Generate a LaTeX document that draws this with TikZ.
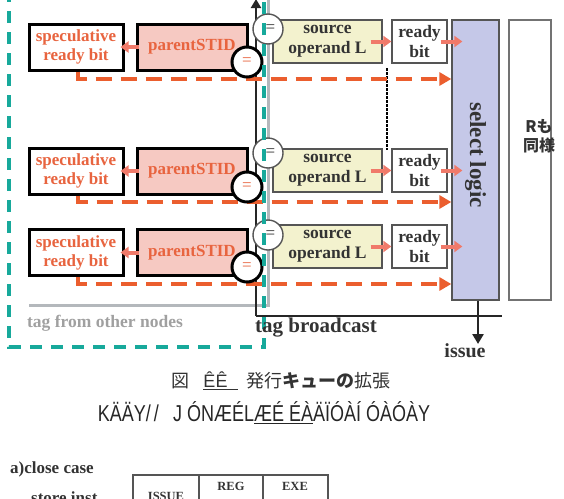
\documentclass[tikz,border=0pt]{standalone}
\usepackage{fontspec}
\usepackage{graphicx}
\setmainfont{Liberation Serif}
\newfontfamily\cjk{Noto Sans CJK JP}
\newfontfamily\narrowf{Liberation Sans}
\usetikzlibrary{arrows.meta}
\definecolor{otxt}{HTML}{E8643F}
\definecolor{salm}{HTML}{F07A6A}
\definecolor{odsh}{HTML}{EB5E2E}
\definecolor{tealc}{HTML}{17A99B}
\definecolor{pinkf}{HTML}{F6C9C2}
\definecolor{ylwf}{HTML}{F3F2CE}
\definecolor{lavf}{HTML}{C5C8E8}
\definecolor{bord}{HTML}{555555}
\definecolor{greyl}{HTML}{B4B8BC}
\definecolor{greyt}{HTML}{A0A0A0}
\definecolor{dtxt}{HTML}{333333}
\begin{document}
\begin{tikzpicture}[x=1pt,y=-1pt,
  specbox/.style={draw=black, line width=3pt, fill=white, minimum width=94pt, minimum height=46pt, inner sep=0pt,
    font=\fontsize{17}{19}\selectfont\bfseries, text=otxt, align=center},
  pidbox/.style={specbox, fill=pinkf, minimum width=110pt, font=\fontsize{17}{19}\selectfont\bfseries},
  srcbox/.style={draw=bord, line width=1.3pt, fill=ylwf, minimum width=109pt, minimum height=43pt, inner sep=0pt,
    font=\fontsize{17.5}{20}\selectfont\bfseries, text=dtxt, align=center},
  rdybox/.style={srcbox, fill=white, minimum width=55pt},
  eqa/.style={circle, draw=bord, line width=1.4pt, fill=white, minimum size=30pt, inner sep=0pt,
    font=\fontsize{17}{17}\selectfont, text=dtxt},
  eqb/.style={circle, draw=black, line width=3pt, fill=white, minimum size=30pt, inner sep=0pt,
    font=\fontsize{17}{17}\selectfont, text=otxt},
  sal/.style={draw=salm, line width=4pt, -{Triangle[length=8pt,width=11pt]}},
  odash/.style={draw=odsh, line width=4pt, dash pattern=on 16pt off 9pt, -{Triangle[length=12pt,width=13pt]}},
  bus/.style={draw=black!85, line width=2.8pt},
  lbl/.style={inner sep=0pt, font=\fontsize{21}{23}\selectfont\bfseries, text=dtxt},
  tcell/.style={inner sep=0pt, font=\fontsize{12.5}{14}\selectfont\bfseries, text=dtxt}
]
\useasboundingbox (0,0) rectangle (564,498);
\clip (0,0) rectangle (564,498);

% grey line (tag from other nodes)
\coordinate (g1) at (29,305);
\coordinate (g2) at (268,305);
\coordinate (g3) at (268,-5);
\draw[greyl, line width=3pt] (g1) -- (g2) -- (g3);

% tag broadcast bus
\coordinate (bb) at (256,316);
\coordinate (bt) at (256,-1);
\coordinate (be) at (502,316);
\draw[bus, -{Triangle[length=9pt,width=10pt]}] (bb) -- (bt);
\draw[bus] (bb) -- (be);

% left boxes
\node[specbox] (spec1) at (76,47) {speculative\\ready bit};
\node[pidbox]  (pid1)  at (192,47) {parentSTID};
\node[specbox] (spec2) at (76,171) {speculative\\ready bit};
\node[pidbox]  (pid2)  at (192,171) {parentSTID};
\node[specbox] (spec3) at (76,252.5) {speculative\\ready bit};
\node[pidbox]  (pid3)  at (192,252.5) {parentSTID};

% right boxes
\node[srcbox] (src1) at (327.5,41.5) {source\\operand L};
\node[rdybox] (rdy1) at (419.5,41.5) {ready\\bit};
\node[srcbox] (src2) at (327.5,170.5) {source\\operand L};
\node[rdybox] (rdy2) at (419.5,170.5) {ready\\bit};
\node[srcbox] (src3) at (327.5,246.5) {source\\operand L};
\node[rdybox] (rdy3) at (419.5,246.5) {ready\\bit};

% select logic and R box
\node[draw=bord, line width=1.3pt, fill=lavf, minimum width=47pt, minimum height=280pt, inner sep=0pt] (sel) at (475.5,160) {};
\node[rotate=-90, inner sep=0pt, font=\fontsize{23}{25}\selectfont\bfseries, text=dtxt] (seltxt) at (475.5,155) {select logic};
\node[draw=black!55, line width=1.3pt, fill=white, minimum width=42pt, minimum height=280pt, inner sep=0pt] (rbox) at (530,160) {};
\node[inner sep=0pt, align=center, font=\cjk\fontsize{16}{19}\selectfont\bfseries, text=dtxt] (rtxt) at (539,136.5) {Rも\\同様};

% dotted line
\coordinate (dt1) at (387,68);
\coordinate (dt2) at (387,150);
\draw[black, line width=2.5pt, dash pattern=on 2.5pt off 1.5pt] (dt1) -- (dt2);

% dashed orange lines
\coordinate (d1) at (sel.west |- 0,79);
\coordinate (d2) at (sel.west |- 0,202);
\coordinate (d3) at (sel.west |- 0,284);
\draw[odash] ([xshift=2pt]spec1.south) |- (d1);
\draw[odash] ([xshift=2pt]spec2.south) |- (d2);
\draw[odash] ([xshift=2pt]spec3.south) |- (d3);

% comparators
\node[eqa] (ea1) at (268,29) {\hspace{5pt}=};
\node[eqb] (eb1) at (247,62) {=};
\node[eqa] (ea2) at (268,153) {\hspace{5pt}=};
\node[eqb] (eb2) at (247,187) {=};
\node[eqa] (ea3) at (268,235) {\hspace{5pt}=};
\node[eqb] (eb3) at (247,267) {=};

% salmon arrows
\foreach \i in {1,2,3}{
  \draw[sal] ([xshift=3pt]pid\i.west) -- ([xshift=-4pt]spec\i.east);
  \draw[sal] ([xshift=-12pt]src\i.east) -- (rdy\i.west);
  \draw[sal] ([xshift=-7pt]rdy\i.east) -- ([xshift=11pt]sel.west |- rdy\i.east);
}

% teal dashed region
\coordinate (t1) at (9,-10);
\coordinate (t2) at (264,347);
\draw[tealc, line width=4pt, dash pattern=on 12pt off 9pt] (t1) rectangle (t2);

% issue
\coordinate (is) at (478,344);
\draw[bus, -{Triangle[length=10pt,width=11pt]}] (sel.south -| is) -- (is);
\node[lbl, font=\fontsize{20}{22}\selectfont\bfseries] (issue) at (465,351) {issue};

% labels
\node[lbl] (tagb) at (316,328) {tag broadcast};
\node[inner sep=0pt, font=\fontsize{17.5}{19}\selectfont\bfseries, text=greyt] (tago) at (105,323) {tag from other nodes};

% caption
\node[inner sep=0pt, font=\cjk\fontsize{18}{20}\selectfont, text=black!80] (cap1) at (281,381)
  {図\hspace{14pt}\underline{\narrowf ÊÊ\hspace{10pt}}\hspace{9pt}発行{\bfseries キューの}拡張};
\node[inner sep=0pt, font=\narrowf\fontsize{23}{25}\selectfont, text=black!85] (cap2) at (264,413)
  {\resizebox{332pt}{\height}{KÄÄY/\,/\hspace{18pt}J ÓNÆÉL\underline{ÆÉ ÉÀ}ÄÏÓÀÍ ÓÀÓÀY}};

% bottom table
\node[inner sep=0pt, anchor=west, font=\fontsize{17}{19}\selectfont\bfseries, text=dtxt] (close) at (10,469) {a)close case};
\node[inner sep=0pt, anchor=base west, font=\fontsize{17}{19}\selectfont\bfseries, text=dtxt] (store) at (31,503) {store inst};
\coordinate (tb1) at (133,505);
\coordinate (tb2) at (133,475);
\coordinate (tb3) at (328,475);
\coordinate (tb4) at (328,505);
\coordinate (tv1) at (199,475);
\coordinate (tv2) at (263,475);
\draw[bord, line width=1.3pt] (tb1) -- (tb2) -- (tb3) -- (tb4);
\draw[bord, line width=1.3pt] (tv1) -- ++(0,30);
\draw[bord, line width=1.3pt] (tv2) -- ++(0,30);
\node[tcell] (c1) at (166,496) {ISSUE};
\node[tcell] (c2) at (231,486) {REG};
\node[tcell] (c3) at (295,486) {EXE};
\end{tikzpicture}
\end{document}
